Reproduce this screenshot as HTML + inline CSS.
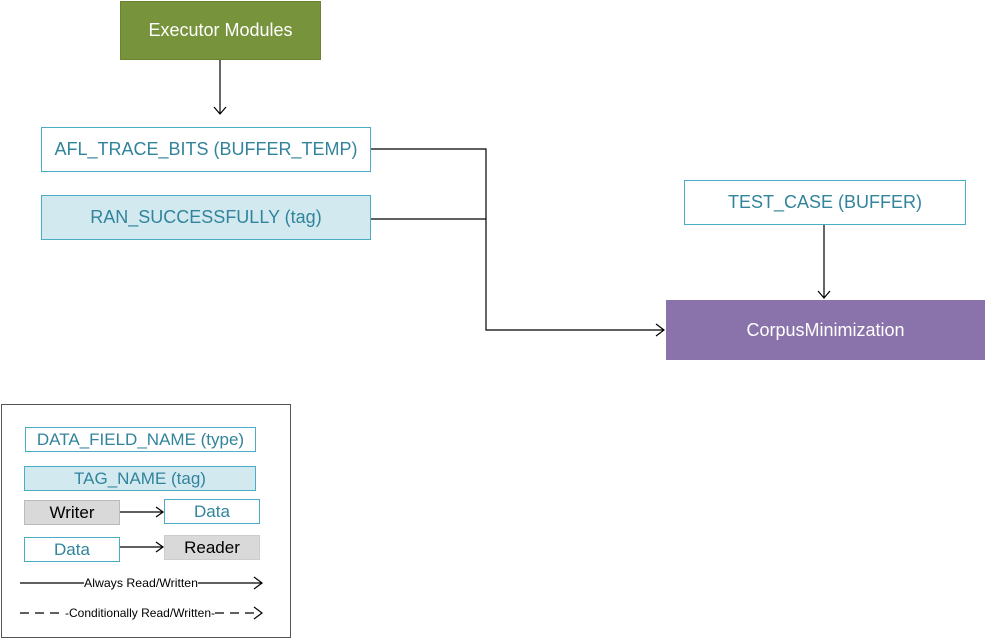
<!DOCTYPE html>
<html><head><meta charset="utf-8"><style>
body{margin:0;width:985px;height:638px;background:#fff;overflow:hidden;position:relative;font-family:"Liberation Sans",sans-serif}
.b{position:absolute;box-sizing:border-box;display:flex;align-items:center;justify-content:center;color:#31849b;font-size:18px}
</style></head><body>
<div class="b" style="left:120px;top:1px;width:201px;height:59px;background:#77933c;border:1px solid #6a8434;color:#fff">Executor Modules</div>
<div class="b" style="left:41px;top:127px;width:330px;height:45px;border:1px solid #4bacc6">AFL_TRACE_BITS (BUFFER_TEMP)</div>
<div class="b" style="left:41px;top:195px;width:330px;height:45px;background:#d3e9f0;border:1px solid #4bacc6">RAN_SUCCESSFULLY (tag)</div>
<div class="b" style="left:684px;top:180px;width:282px;height:45px;border:1px solid #4bacc6">TEST_CASE (BUFFER)</div>
<div class="b" style="left:666px;top:300px;width:319px;height:60px;background:#8a72aa;color:#fff">CorpusMinimization</div>
<div style="position:absolute;left:1px;top:404px;width:288px;height:232px;border:1px solid #555"></div>
<div class="b" style="left:25px;top:427px;width:231px;height:25px;border:1px solid #4bacc6;font-size:17px">DATA_FIELD_NAME (type)</div>
<div class="b" style="left:24px;top:466px;width:232px;height:25px;background:#d3e9f0;border:1px solid #4bacc6;font-size:17px">TAG_NAME (tag)</div>
<div class="b" style="left:24px;top:500px;width:96px;height:25px;background:#d9d9d9;border:1px solid #bbb;color:#000;font-size:17px">Writer</div>
<div class="b" style="left:164px;top:499px;width:96px;height:25px;border:1px solid #4bacc6;font-size:17px">Data</div>
<div class="b" style="left:24px;top:537px;width:96px;height:25px;border:1px solid #4bacc6;font-size:17px">Data</div>
<div class="b" style="left:164px;top:535px;width:96px;height:25px;background:#d9d9d9;border:1px solid #ccc;color:#000;font-size:17px">Reader</div>
<svg width="985" height="638" style="position:absolute;left:0;top:0" fill="none" stroke="#000" stroke-width="1.2">
<path d="M220 60V114M214 107L220 114L226 107"/>
<path d="M371 149H486V330H664M656 324L664 330L656 336"/>
<path d="M371 219H486"/>
<path d="M824 225V298M818 291L824 298L830 291"/>
<path d="M120 512H163M156 507L163 512L156 517"/>
<path d="M120 547H163M156 542L163 547L156 552"/>
<path d="M20 583H84M198 583H262M254 577L262 583L254 589"/>
<path d="M20 613H64" stroke-dasharray="9,6"/>
<path d="M215 613H260" stroke-dasharray="9,6"/>
<path d="M254 607L262 613L254 619"/>
<g stroke="none" fill="#000" font-size="12" font-family="Liberation Sans, sans-serif">
<text x="84" y="587" textLength="114" lengthAdjust="spacingAndGlyphs">Always Read/Written</text>
<text x="65" y="617" textLength="150" lengthAdjust="spacingAndGlyphs">-Conditionally Read/Written-</text>
</g>
</svg>
</body></html>
